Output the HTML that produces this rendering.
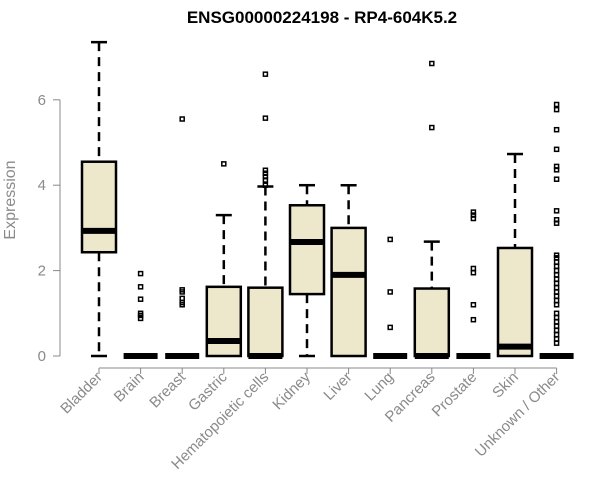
<!DOCTYPE html>
<html><head><meta charset="utf-8"><style>body{margin:0;background:#fff}svg{display:block}</style></head>
<body>
<svg id="c" width="600" height="500" xmlns="http://www.w3.org/2000/svg" font-family="Liberation Sans, sans-serif">
<text x="322" y="23" text-anchor="middle" font-weight="bold" font-size="17">ENSG00000224198 - RP4-604K5.2</text>
<text transform="translate(15,200) rotate(-90)" text-anchor="middle" font-size="16" fill="#8a8a8a">Expression</text>
<g id="axes"></g><g id="marks"></g>
</svg>
<script>
const categories=["Bladder","Brain","Breast","Gastric","Hematopoietic cells","Kidney","Liver","Lung","Pancreas","Prostate","Skin","Unknown / Other"];
const whiskerLow=[0,0,0,0,0,0,0,0,0,0,0,0];
const q1=[2.43,0,0,0,0,1.45,0,0,0,0,0,0];
const medians=[2.93,0,0,0.35,0,2.67,1.9,0,0,0,0.22,0];
const q3=[4.55,0,0,1.62,1.6,3.53,3.0,0,1.58,0,2.53,0];
const whiskerHigh=[7.35,0,0,3.3,3.97,4.0,4.0,0,2.68,0,4.73,0];
const outliers=[[],[1.93,1.62,1.33,1.0,0.95,0.88],[5.55,1.55,1.5,1.35,1.25,1.2],[4.5],[6.6,5.57,4.35,4.28,4.2,4.12,4.0],[],[],[2.73,1.5,0.67],[6.85,5.35],[3.37,3.3,3.22,2.05,1.95,1.2,0.85],[],[5.89,5.77,5.3,4.84,4.44,4.36,4.14,3.4,3.19,3.11,2.36,2.3,2.2,2.1,2.0,1.9,1.8,1.7,1.6,1.5,1.4,1.3,1.2,1.0,0.9,0.8,0.7,0.6,0.5,0.4,0.3]];
const yTicks=[0,2,4,6];
const NS="http://www.w3.org/2000/svg";
const y=v=>356-v*42.7, x=i=>99+i*41.6, hw=17;
function mk(p,t,a){const e=document.createElementNS(NS,t);for(const k in a)e.setAttribute(k,a[k]);p.appendChild(e);return e;}
const ax=document.getElementById('axes'), mg=document.getElementById('marks');
const yl=mk(ax,'line',{x1:60,x2:60,y1:y(6),y2:y(0),stroke:'#888'});


yTicks.forEach(t=>{mk(ax,'line',{x1:53,x2:60,y1:y(t),y2:y(t),stroke:'#888'});
const tx=mk(ax,'text',{x:46,y:y(t)+5,'text-anchor':'end','font-size':15,fill:'#8a8a8a'});tx.textContent=t;

});
const xl=mk(ax,'line',{x1:x(0),x2:x(11),y1:368,y2:368,stroke:'#888'});


categories.forEach((c,i)=>{mk(ax,'line',{x1:x(i),x2:x(i),y1:368,y2:374,stroke:'#888'});
const tx=mk(ax,'text',{transform:`translate(${x(i)+4},378) rotate(-45)`,'text-anchor':'end','font-size':15,fill:'#8a8a8a'});tx.textContent=c;


const g=mk(mg,'g',{});


const cx=x(i);
if(whiskerHigh[i]>q3[i]){mk(g,'line',{x1:cx,x2:cx,y1:y(whiskerHigh[i]),y2:y(q3[i]),stroke:'#000','stroke-width':2.5,'stroke-dasharray':'9,6'});mk(g,'line',{x1:cx-8,x2:cx+8,y1:y(whiskerHigh[i]),y2:y(whiskerHigh[i]),stroke:'#000','stroke-width':2.5});}
if(q1[i]>whiskerLow[i]){mk(g,'line',{x1:cx,x2:cx,y1:y(q1[i]),y2:y(whiskerLow[i]),stroke:'#000','stroke-width':2.5,'stroke-dasharray':'9,6'});mk(g,'line',{x1:cx-8,x2:cx+8,y1:y(whiskerLow[i]),y2:y(whiskerLow[i]),stroke:'#000','stroke-width':2.5});}
if(q3[i]>q1[i])mk(g,'rect',{x:cx-hw,y:y(q3[i]),width:2*hw,height:y(q1[i])-y(q3[i]),fill:'#ede7cb',stroke:'#000','stroke-width':2.5});
mk(g,'line',{x1:cx-hw,x2:cx+hw,y1:y(medians[i]),y2:y(medians[i]),stroke:'#000','stroke-width':6});
outliers[i].forEach(v=>mk(g,'rect',{x:cx-2,y:y(v)-2,width:4,height:4,fill:'none',stroke:'#000','stroke-width':1.5}));
});
</script>
</body></html>
